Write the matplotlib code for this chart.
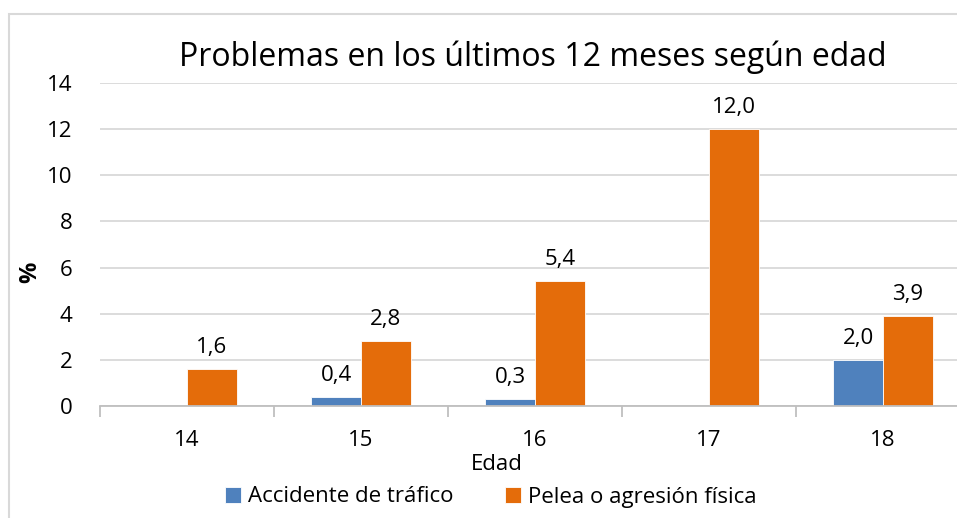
import matplotlib
matplotlib.use("Agg")
import matplotlib.pyplot as plt
import numpy as np
from matplotlib.patches import Rectangle

# data
edades = ["14", "15", "16", "17", "18"]
accidente = [0.0, 0.4, 0.3, 0.0, 2.0]
pelea = [1.6, 2.8, 5.4, 12.0, 3.9]
series_names = ["Accidente de tráfico", "Pelea o agresión física"]
colors = ["#4F81BD", "#E46C0A"]

plt.rcParams['font.family'] = ['Open Sans', 'DejaVu Sans']
fs = 16

fig = plt.figure(figsize=(9.57, 5.18), dpi=100)
ax = fig.add_axes([100/957, 1-406/518, 870/957, (406-83)/518])

# outer chart border
fig.patches.append(Rectangle((9/957, -0.1), 1.2, 1.1 - 14/518, transform=fig.transFigure,
                             fill=False, edgecolor="#D9D9D9", linewidth=1.5, zorder=0))

x = np.arange(len(edades))
w = 0.287
for i, (vals, name) in enumerate(zip([accidente, pelea], series_names)):
    pos = x + (i - 0.5) * w
    ax.bar(pos, vals, width=w, color=colors[i], edgecolor="white", linewidth=0.6,
           label=name, zorder=3)
    for p, v in zip(pos, vals):
        if v > 0:
            ax.annotate(f"{v:.1f}".replace(".", ","), (p, v), xytext=(0, 11.5),
                        textcoords="offset points", ha="center", va="baseline",
                        fontsize=fs, color="#000000")

ax.set_xlim(-0.5, len(edades) - 0.5)
ax.set_ylim(0, 14)
ax.set_yticks(range(0, 15, 2))
ax.grid(axis="y", color="#D9D9D9", linewidth=1.3, zorder=0)
ax.set_axisbelow(True)
for s in ["top", "right", "left"]:
    ax.spines[s].set_visible(False)
ax.spines["bottom"].set_color("#BFBFBF")
ax.spines["bottom"].set_linewidth(1.3)
ax.spines["bottom"].set_zorder(4)

ax.set_xticks(x)
ax.set_xticklabels(edades, fontsize=fs)
ax.tick_params(axis="x", length=0, pad=17)
ax.set_xticks(np.arange(-0.5, len(edades), 1), minor=True)
ax.tick_params(axis="x", which="minor", length=8, width=1.3, color="#BFBFBF", direction="out")
ax.tick_params(axis="y", length=0, labelsize=fs, pad=20)

ax.set_ylabel("%", fontsize=fs + 1, fontweight="bold")
ax.yaxis.set_label_coords(-58/870, 0.415)
ax.set_xlabel("Edad", fontsize=fs)
ax.xaxis.set_label_coords((497-100)/870, -(454-406)/323)

fig.text(533/957, 1-57/518, "Problemas en los últimos 12 meses según edad", ha="center",
         va="center", fontsize=23)

handles, labels = ax.get_legend_handles_labels()
fig.legend(handles, labels, loc="center", bbox_to_anchor=(491/957, 1-497/518), ncol=2,
           frameon=False, fontsize=fs, handlelength=0.7, handleheight=0.7,
           handletextpad=0.35, columnspacing=2.3, borderpad=0)

fig.savefig("out.png", dpi=100)
